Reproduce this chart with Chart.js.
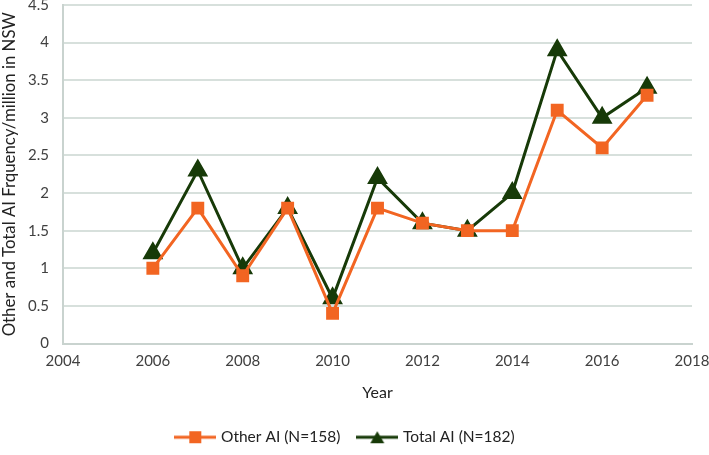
<!DOCTYPE html>
<html>
<head>
<meta charset="utf-8">
<script src="https://cdn.jsdelivr.net/npm/chart.js@4"></script>
<style>
  html, body { margin: 0; padding: 0; background: #fff; }
  #wrap { width: 709px; height: 455px; }
</style>
</head>
<body>
<div id="wrap"><canvas id="myChart" width="709" height="455"></canvas></div>
<script>
var anos = [2006, 2007, 2008, 2009, 2010, 2011, 2012, 2013, 2014, 2015, 2016, 2017];
var other_ai = [1.0, 1.8, 0.9, 1.8, 0.4, 1.8, 1.6, 1.5, 1.5, 3.1, 2.6, 3.3];
var total_ai = [1.2, 2.3, 1.0, 1.8, 0.6, 2.2, 1.6, 1.5, 2.0, 3.9, 3.0, 3.4];
var ticks_x = [2004, 2006, 2008, 2010, 2012, 2014, 2016, 2018];
var ticks_y = [0, 0.5, 1, 1.5, 2, 2.5, 3, 3.5, 4, 4.5];

var cor_other = '#f26522';
var cor_total = '#173a08';
var fonte = 'Lato, "Open Sans", sans-serif';
var cor_texto = '#404040';

function pontos(valores) {
    var dados = [];
    for (let i = 0; i < anos.length; i++) {
        dados.push({ x: anos[i], y: valores[i] });
    }
    return dados;
}

// marcador da legenda: linha com o ponto no meio
function iconeLegenda(cor, tipo) {
    var c = document.createElement('canvas');
    c.width = 42;
    c.height = 14;
    var g = c.getContext('2d');
    g.strokeStyle = cor;
    g.lineWidth = 3;
    g.beginPath();
    g.moveTo(0, 7);
    g.lineTo(42, 7);
    g.stroke();
    g.fillStyle = cor;
    g.beginPath();
    if (tipo == 'rect') {
        g.rect(15, 1, 12, 12);
    } else {
        g.moveTo(21, 1);
        g.lineTo(28, 13);
        g.lineTo(14, 13);
        g.closePath();
    }
    g.fill();
    return c;
}

var ctx = document.getElementById('myChart').getContext('2d');
var grafico = new Chart(ctx, {
    type: 'line',
    data: {
        datasets: [{
            label: 'Other AI (N=158)',
            data: pontos(other_ai),
            borderColor: cor_other,
            backgroundColor: cor_other,
            borderWidth: 3,
            pointStyle: 'rect',
            pointRadius: 7,
            pointHoverRadius: 7,
            tension: 0
        }, {
            label: 'Total AI (N=182)',
            data: pontos(total_ai),
            borderColor: cor_total,
            backgroundColor: cor_total,
            borderWidth: 3,
            pointStyle: 'triangle',
            pointRadius: 9,
            pointHoverRadius: 9,
            tension: 0
        }]
    },
    options: {
        responsive: false,
        animation: false,
        layout: {
            autoPadding: false,
            padding: { top: 5, right: 17, left: 0, bottom: 0 }
        },
        scales: {
            x: {
                type: 'linear',
                min: 2004,
                max: 2018,
                afterBuildTicks: function (scale) {
                    scale.ticks = ticks_x.map(v => ({ value: v }));
                },
                afterFit: function (scale) {
                    scale.height = 67;
                    scale.paddingLeft = 0;
                    scale.paddingRight = 0;
                },
                grid: { display: false, drawTicks: false },
                border: { display: true, color: '#c9d3cf', width: 2 },
                ticks: {
                    color: cor_texto,
                    font: { family: fonte, size: 15 },
                    padding: 9,
                    maxRotation: 0,
                    callback: function (v) { return String(v); }
                },
                title: {
                    display: true,
                    text: 'Year',
                    color: '#222',
                    font: { family: fonte, size: 16 },
                    padding: { top: 0, bottom: 8 }
                }
            },
            y: {
                min: 0,
                max: 4.5,
                afterBuildTicks: function (scale) {
                    scale.ticks = ticks_y.map(v => ({ value: v }));
                },
                afterFit: function (scale) {
                    scale.width = 63;
                    scale.paddingTop = 0;
                    scale.paddingBottom = 0;
                },
                grid: { color: '#d7e0dc', lineWidth: 2, drawTicks: false },
                border: { display: true, color: '#c9d3cf', width: 2 },
                ticks: {
                    color: cor_texto,
                    font: { family: fonte, size: 15 },
                    padding: 14,
                    callback: function (v) { return String(v); }
                },
                title: {
                    display: true,
                    text: 'Other and Total AI Frquency/million in NSW',
                    color: '#222',
                    font: { family: fonte, size: 16.8 },
                    padding: { top: 0, bottom: 0 }
                }
            }
        },
        plugins: {
            tooltip: { enabled: false },
            legend: {
                position: 'bottom',
                labels: {
                    color: '#222',
                    font: { family: fonte, size: 15.5 },
                    usePointStyle: true,
                    pointStyleWidth: 36,
                    padding: 19,
                    generateLabels: function (chart) {
                        return [
                            { text: 'Other AI (N=158)', pointStyle: iconeLegenda(cor_other, 'rect'), fontColor: '#222', datasetIndex: 0, lineWidth: 0, strokeStyle: 'transparent', fillStyle: cor_other },
                            { text: 'Total AI (N=182)', pointStyle: iconeLegenda(cor_total, 'tri'), fontColor: '#222', datasetIndex: 1, lineWidth: 0, strokeStyle: 'transparent', fillStyle: cor_total }
                        ];
                    }
                }
            }
        }
    }
});
</script>
</body>
</html>
